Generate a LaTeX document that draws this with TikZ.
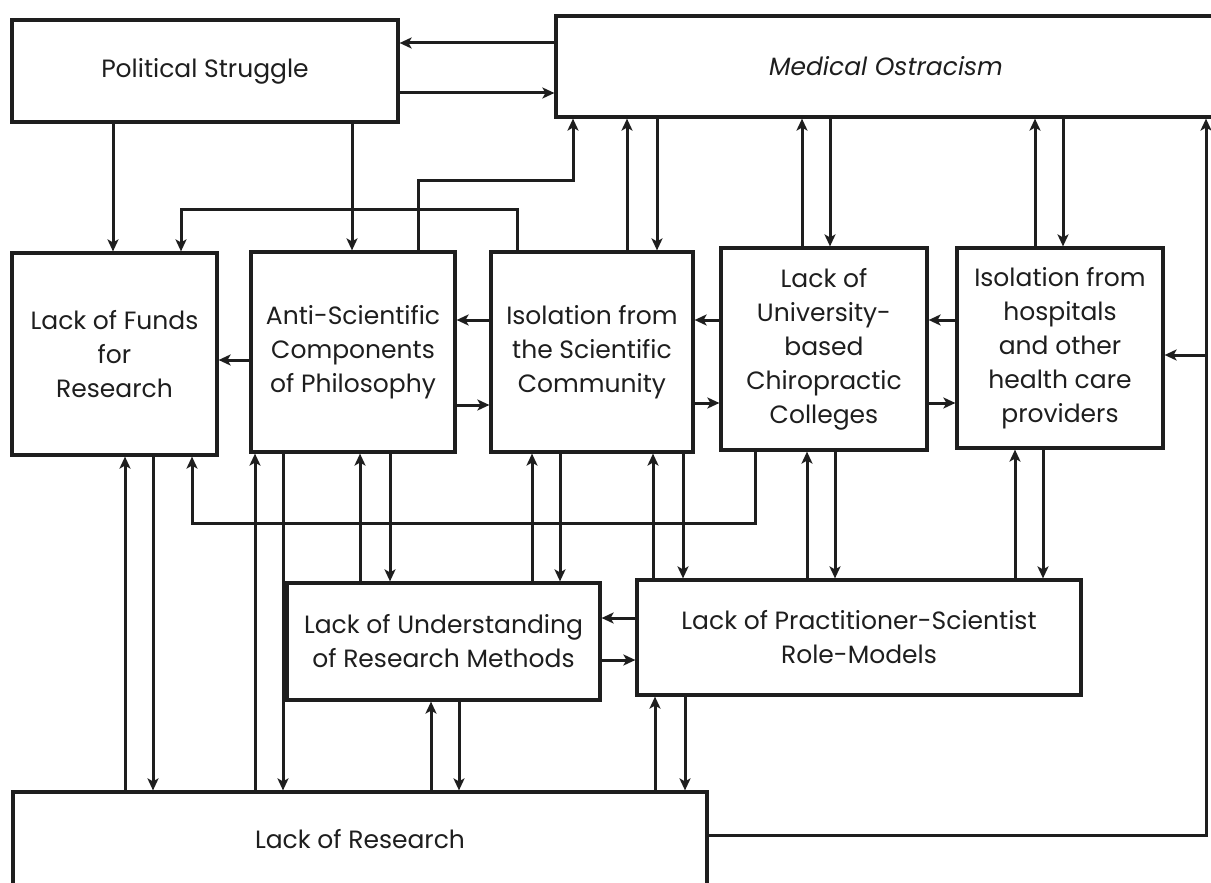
\documentclass[tikz,border=0pt]{standalone}
\usepackage{fontspec}
\setmainfont{Poppins}
\usetikzlibrary{arrows.meta}
\definecolor{ink}{HTML}{1E1E1E}
\begin{document}
\begin{tikzpicture}[x=1pt,y=-1pt,
  box/.style={draw=ink, line width=3.2pt, fill=white, align=center, inner sep=0pt,
    font=\fontsize{25}{34}\selectfont, text=ink},
  arr/.style={draw=ink, line width=3pt, -{Stealth[length=12pt,width=11pt,inset=3pt]}}]
\useasboundingbox (0,0) rectangle (1211,883);
\clip (0,0) rectangle (1211,883);
% boxes
\node[box, minimum width=386pt, minimum height=102pt] (ps) at (205,71) {Political Struggle};
\node[box, minimum width=660pt, minimum height=101pt] (mo) at (886,66.5) {\itshape Medical Ostracism};
\node[box, minimum width=205pt, minimum height=202pt] (lf) at (114.5,354) {Lack of Funds\\for\\Research};
\node[box, minimum width=204pt, minimum height=200pt] (as) at (353,352) {Anti-Scientific\\Components\\of Philosophy};
\node[box, minimum width=202pt, minimum height=200pt] (is) at (592,352) {Isolation from\\the Scientific\\Community};
\node[box, minimum width=206pt, minimum height=202pt] (lu) at (824,349) {Lack of\\University-\\based\\Chiropractic\\Colleges};
\node[box, minimum width=206pt, minimum height=200pt] (ih) at (1060,348) {Isolation from\\hospitals\\and other\\health care\\providers};
\node[box, minimum width=313pt, minimum height=117pt] (lur) at (443.5,641.5) {Lack of Understanding\\of Research Methods};
\node[box, minimum width=444pt, minimum height=115pt] (lp) at (859,637.5) {Lack of Practitioner-Scientist\\Role-Models};
\node[box, minimum width=694pt, minimum height=94pt] (lr) at (360,839) {Lack of Research};
% top connectors
\draw[arr] (mo.west |- 0,43) -- (ps.east |- 0,43);
\draw[arr] (ps.east |- 0,93) -- (mo.west |- 0,93);
\draw[arr] (ps.south -| 113,0) -- (lf.north -| 113,0);
\draw[arr] (ps.south -| 352,0) -- (as.north -| 352,0);
\draw[arr] (is.north -| 517,0) |- (181,209) -- (lf.north -| 181,0);
\draw[arr] (as.north -| 418,0) |- (573,180) -- (mo.south -| 573,0);
\draw[arr] (is.north -| 627,0) -- (mo.south -| 627,0);
\draw[arr] (mo.south -| 657,0) -- (is.north -| 657,0);
\draw[arr] (lu.north -| 802,0) -- (mo.south -| 802,0);
\draw[arr] (mo.south -| 830,0) -- (lu.north -| 830,0);
\draw[arr] (ih.north -| 1035,0) -- (mo.south -| 1035,0);
\draw[arr] (mo.south -| 1063,0) -- (ih.north -| 1063,0);
\draw[arr] (lr.east |- 0,835) -| (mo.south -| 1206,0);
\coordinate (rj) at (1206,355);
\draw[arr] (rj) -- (ih.east |- rj);
% middle row
\draw[arr] (as.west |- 0,360) -- (lf.east |- 0,360);
\draw[arr] (is.west |- 0,320) -- (as.east |- 0,320);
\draw[arr] (as.east |- 0,405) -- (is.west |- 0,405);
\draw[arr] (lu.west |- 0,320) -- (is.east |- 0,320);
\draw[arr] (is.east |- 0,403) -- (lu.west |- 0,403);
\draw[arr] (ih.west |- 0,320) -- (lu.east |- 0,320);
\draw[arr] (lu.east |- 0,403) -- (ih.west |- 0,403);
% lower connectors
\draw[arr] (lr.north -| 125,0) -- (lf.south -| 125,0);
\draw[arr] (lf.south -| 153,0) -- (lr.north -| 153,0);
\draw[arr] (lu.south -| 755,0) |- (192,523) -- (lf.south -| 192,0);
\draw[arr] (lr.north -| 255,0) -- (as.south -| 255,0);
\draw[arr] (as.south -| 283,0) -- (lr.north -| 283,0);
\draw[arr] (lur.north -| 360,0) -- (as.south -| 360,0);
\draw[arr] (as.south -| 390,0) -- (lur.north -| 390,0);
\draw[arr] (lur.north -| 532,0) -- (is.south -| 532,0);
\draw[arr] (is.south -| 560,0) -- (lur.north -| 560,0);
\draw[arr] (lp.north -| 653,0) -- (is.south -| 653,0);
\draw[arr] (is.south -| 683,0) -- (lp.north -| 683,0);
\draw[arr] (lp.north -| 807,0) -- (lu.south -| 807,0);
\draw[arr] (lu.south -| 835,0) -- (lp.north -| 835,0);
\draw[arr] (lp.north -| 1015,0) -- (ih.south -| 1015,0);
\draw[arr] (ih.south -| 1043,0) -- (lp.north -| 1043,0);
\draw[arr] (lp.west |- 0,618) -- (lur.east |- 0,618);
\draw[arr] (lur.east |- 0,660) -- (lp.west |- 0,660);
\draw[arr] (lr.north -| 431,0) -- (lur.south -| 431,0);
\draw[arr] (lur.south -| 459,0) -- (lr.north -| 459,0);
\draw[arr] (lr.north -| 655,0) -- (lp.south -| 655,0);
\draw[arr] (lp.south -| 685,0) -- (lr.north -| 685,0);
\end{tikzpicture}
\end{document}
